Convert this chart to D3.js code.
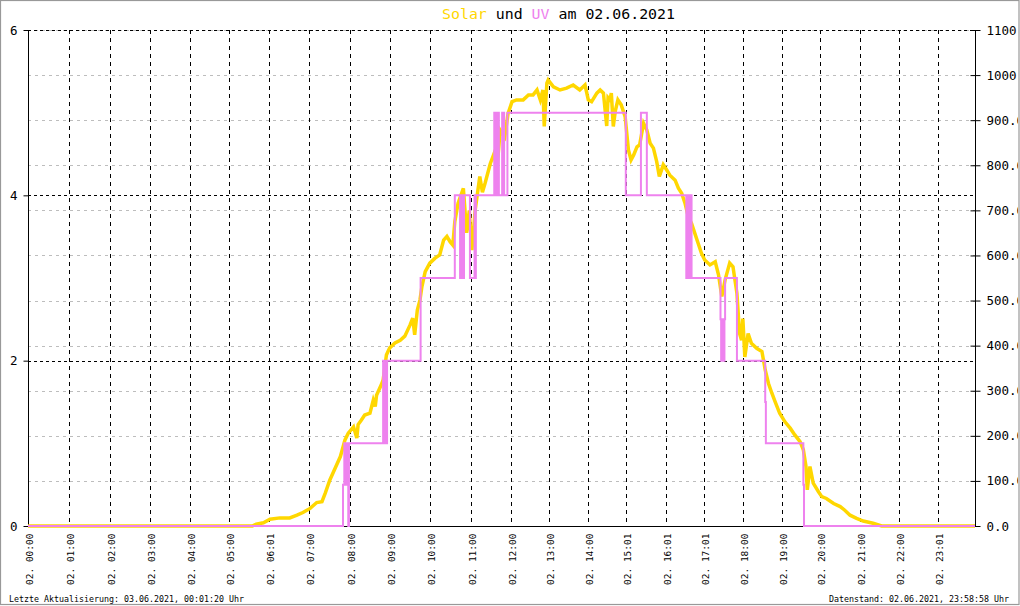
<!DOCTYPE html>
<html>
<head>
<meta charset="utf-8">
<script src="https://cdn.jsdelivr.net/npm/d3@7"></script>
<style>
  html, body { margin: 0; padding: 0; background: #fff; }
  svg { display: block; }
  text { font-family: "DejaVu Sans Mono", monospace; }
</style>
</head>
<body>
<div id="chart"></div>
<script>
// ---------- data ----------
const titleParts = [["Solar", "#FFD700"], [" und ", "#000"], ["UV", "#EE82EE"], [" am 02.06.2021", "#000"]];
const footerLeft = "Letzte Aktualisierung: 03.06.2021, 00:01:20 Uhr";
const footerRight = "Datenstand: 02.06.2021, 23:58:58 Uhr";

// x axis is by logger sample number (0..1440); labels sit at the sample where that time occurred
const sampleCount = 1440;
const tickLabels = ["02. 00:00","02. 01:00","02. 02:00","02. 03:00","02. 04:00","02. 05:00",
  "02. 06:01","02. 07:00","02. 08:00","02. 09:00","02. 10:00","02. 11:00","02. 12:00",
  "02. 13:00","02. 14:00","02. 15:01","02. 16:01","02. 17:01","02. 18:00","02. 19:00",
  "02. 20:00","02. 21:00","02. 22:00","02. 23:01"];
const tickSample = [0,62,125,186,246,306,367,428,490,551,612,673,734,792,851,910,970,1028,1087,1147,1205,1265,1324,1383];

const uvTicks = [0, 2, 4, 6];
const solarTicks = [0,100,200,300,400,500,600,700,800,900,1000,1100];

// Solar radiation W/m² : [sample, value]
const solar = [
  [0,0],[341,0],[347,4],[358,7],[368,15],[383,18],[398,18],[409,24],[418,30],[429,39],
  [439,52],[447,54],[452,73],[459,102],[467,128],[475,154],[482,191],[487,206],[495,220],
  [500,195],[502,225],[507,235],[512,246],[520,250],[525,279],[528,265],[530,290],[538,316],
  [540,324],[545,379],[550,395],[558,406],[566,412],[573,421],[581,446],[585,461],[588,424],
  [592,479],[596,501],[599,531],[604,564],[611,583],[619,594],[626,601],[632,634],[637,642],
  [642,630],[646,623],[649,675],[654,716],[662,749],[667,650],[671,700],[675,612],[680,701],
  [687,775],[691,740],[695,760],[703,804],[709,827],[713,790],[718,878],[725,863],[730,915],
  [736,941],[743,945],[753,945],[761,956],[768,956],[774,967],[779,945],[783,967],[785,886],
  [789,982],[791,989],[799,974],[809,967],[819,971],[829,978],[839,967],[847,978],[852,945],
  [857,941],[865,960],[870,967],[875,960],[880,887],[882,950],[885,945],[887,960],[890,886],
  [893,920],[897,945],[902,934],[908,908],[913,834],[917,812],[921,823],[926,841],[930,845],
  [936,893],[941,878],[946,849],[951,838],[956,808],[960,775],[966,801],[971,790],[976,778],
  [984,767],[989,749],[994,738],[999,716],[1004,686],[1009,671],[1014,649],[1019,627],
  [1024,605],[1029,590],[1037,579],[1045,586],[1050,557],[1055,509],[1060,546],[1067,583],
  [1072,575],[1078,516],[1082,427],[1085,412],[1087,460],[1090,375],[1095,427],[1100,405],
  [1108,394],[1116,387],[1121,346],[1126,316],[1131,295],[1136,276],[1143,250],[1151,231],
  [1159,217],[1166,202],[1174,187],[1179,169],[1183,132],[1185,80],[1189,132],[1194,95],
  [1202,76],[1207,65],[1214,61],[1225,50],[1235,43],[1242,35],[1250,24],[1260,17],[1270,11],
  [1285,6],[1298,0],[1440,0]
];

// UV index : [sample, value] (stepped)
const uv = [
  [0,0],[479,0.5],[481,1],[482,0.5],[483,1],[484,0.5],[485,1],[486,0.5],[487,0],[488,1],
  [540,2],[542,1],[544,2],[545,1],[546,2],[597,3],[649,4],[657,3],[659,4],[661,3],[663,4],
  [672,3],[679,4],[680,3],[681,4],[709,5],[710,4],[711,5],[712,4],[713,5],[714,4],[715,5],
  [716,4],[721,5],[724,4],[729,5],[909,4],[932,5],[941,4],[1001,3],[1003,4],[1005,3],
  [1007,4],[1009,3],[1053,2.5],[1054,2],[1055,2.5],[1056,2],[1057,2.5],[1058,2],[1059,2.5],
  [1060,3],[1078,2],[1121,1.5],[1122,1],[1179,0.5],[1180,0],[1440,0]
];

// ---------- drawing ----------
const W = 1020, H = 606;
const L = 28, R = 975, T = 30, B = 526;

const svg = d3.select("#chart").append("svg").attr("width", W).attr("height", H);
svg.append("rect").attr("width", W).attr("height", H).attr("fill", "#fff");
svg.append("defs").append("clipPath").attr("id", "clipAll")
  .append("rect").attr("x", 0).attr("y", 0).attr("width", 1018).attr("height", H);

const x = d3.scaleLinear().domain([0, sampleCount]).range([L, R]);
const yUV = d3.scaleLinear().domain([0, 6]).range([B, T]);
const ySol = d3.scaleLinear().domain([0, 1100]).range([B, T]);

// grid
const grid = svg.append("g");
grid.selectAll(".gh").data(solarTicks.filter(d => d > 0)).join("line")
  .attr("x1", L).attr("x2", R)
  .attr("y1", d => Math.round(ySol(d)) + 0.5).attr("y2", d => Math.round(ySol(d)) + 0.5)
  .attr("stroke", "#bdbdbd").attr("stroke-width", 1).attr("stroke-dasharray", "3,4");
grid.selectAll(".gu").data(uvTicks.filter(d => d > 0)).join("line")
  .attr("x1", L).attr("x2", R)
  .attr("y1", d => Math.round(yUV(d)) + 0.5).attr("y2", d => Math.round(yUV(d)) + 0.5)
  .attr("stroke", "#000").attr("stroke-width", 1).attr("stroke-dasharray", "3,3");
grid.selectAll(".gv").data(tickSample.filter(d => d > 0)).join("line")
  .attr("x1", d => Math.round(x(d)) + 0.5).attr("x2", d => Math.round(x(d)) + 0.5)
  .attr("y1", T).attr("y2", B)
  .attr("stroke", "#000").attr("stroke-width", 1).attr("stroke-dasharray", "4,4");

// axes
const fontAxis = 12.5;
const axL = svg.append("g").attr("transform", `translate(${L + 0.5},0)`)
  .call(d3.axisLeft(yUV).tickValues(uvTicks).tickFormat(d3.format("d")).tickSize(5).tickPadding(6));
axL.select(".domain").attr("d", `M0,${T}V${B}`).attr("stroke", "#000");
axL.selectAll("text").attr("font-family", "DejaVu Sans Mono").attr("font-size", fontAxis).attr("fill", "#000");

const axR = svg.append("g").attr("clip-path", "url(#clipAll)").append("g")
  .attr("transform", `translate(${R + 0.5},0)`)
  .call(d3.axisRight(ySol).tickValues(solarTicks).tickFormat(d3.format(".1f")).tickSize(5).tickPadding(6));
axR.select(".domain").attr("d", `M0,${T}V${B}`).attr("stroke", "#000");
axR.selectAll(".tick line").attr("x1", -5).attr("x2", 5);
axR.selectAll("text").attr("font-family", "DejaVu Sans Mono").attr("font-size", fontAxis).attr("fill", "#000");

const axB = svg.append("g").attr("transform", `translate(0,${B + 0.5})`)
  .call(d3.axisBottom(x).tickValues(tickSample).tickFormat((d, i) => tickLabels[i]).tickSize(0));
axB.select(".domain").attr("d", `M${L},0H${R}`).attr("stroke", "#000");
axB.selectAll(".tick text")
  .attr("font-family", "DejaVu Sans Mono").attr("font-size", 9.5).attr("fill", "#000")
  .attr("text-anchor", "end").attr("dominant-baseline", "central")
  .attr("transform", "translate(1,7) rotate(-90)").attr("x", 0).attr("y", 0).attr("dy", null);

// data lines
svg.append("path").datum(solar)
  .attr("fill", "none").attr("stroke", "#FFD700").attr("stroke-width", 3.5)
  .attr("stroke-linejoin", "miter")
  .attr("d", d3.line().x(d => x(d[0])).y(d => ySol(d[1])));
svg.append("path").datum(uv)
  .attr("fill", "none").attr("stroke", "#EE82EE").attr("stroke-width", 2)
  .attr("d", d3.line().curve(d3.curveStepAfter).x(d => x(d[0])).y(d => yUV(d[1])));

// title
const title = svg.append("text").attr("x", 442).attr("y", 18.5)
  .attr("font-size", 14).attr("textLength", 233).attr("lengthAdjust", "spacingAndGlyphs");
title.selectAll("tspan").data(titleParts).join("tspan")
  .attr("fill", d => d[1]).attr("xml:space", "preserve").text(d => d[0]);
title.attr("style", "white-space:pre");

// footer
svg.append("text").attr("x", 9).attr("y", 602).attr("font-size", 8.3)
  .attr("textLength", 235).attr("lengthAdjust", "spacingAndGlyphs").text(footerLeft);
svg.append("text").attr("x", 829).attr("y", 602).attr("font-size", 8.3)
  .attr("textLength", 180).attr("lengthAdjust", "spacingAndGlyphs").text(footerRight);

// frame
svg.append("rect").attr("x", 0.5).attr("y", 0.5).attr("width", 1018.5).attr("height", 604)
  .attr("fill", "none").attr("stroke", "#999").attr("stroke-width", 1.2);
</script>
</body>
</html>
